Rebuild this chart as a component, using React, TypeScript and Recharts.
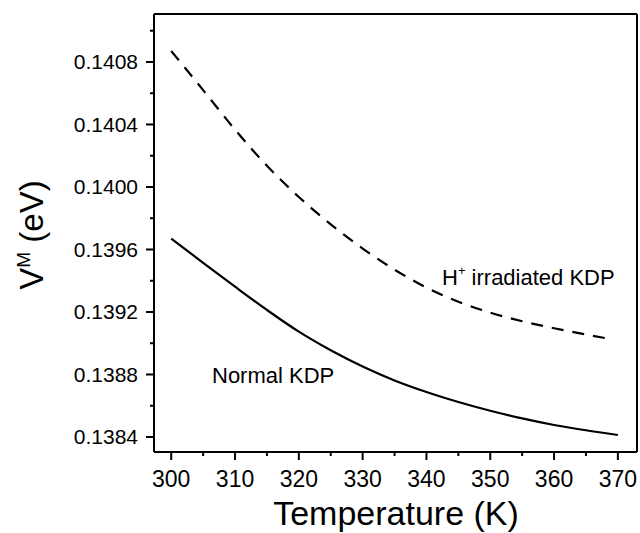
import { LineChart, Line, XAxis, YAxis, ReferenceLine } from "recharts";

// temperature (K)
const normalT = [300, 305, 310, 315, 320, 325, 330, 335, 340, 345, 350, 355, 360, 365, 370];
const normalV = [0.13967, 0.139515, 0.139362, 0.139213, 0.139074, 0.138955, 0.138851, 0.138762, 0.138688, 0.138624, 0.138568, 0.138519, 0.138477, 0.138443, 0.138413];

const irradT = [300, 305, 310, 315, 320, 325, 330, 335, 340, 345, 350, 355, 360, 365, 369];
const irradV = [0.14087, 0.14062, 0.140367, 0.140136, 0.139936, 0.139761, 0.139606, 0.139471, 0.139356, 0.139266, 0.139196, 0.139141, 0.139096, 0.139056, 0.139026];

const xTicks = [300, 305, 310, 315, 320, 325, 330, 335, 340, 345, 350, 355, 360, 365, 370];
const yTicks = [0.1384, 0.1386, 0.1388, 0.139, 0.1392, 0.1394, 0.1396, 0.1398, 0.14, 0.1402, 0.1404, 0.1406, 0.1408, 0.141];

const xDomain = [297.3, 373];
const yDomain = [0.138304, 0.141107];

const normalData = normalT.map((t, i) => ({ t, v: normalV[i] }));
const irradData = irradT.map((t, i) => ({ t, v: irradV[i] }));

const FONT = "'Liberation Sans', Arial, Helvetica, sans-serif";

const XTick = (props: any) => {
  const { x, y, payload } = props;
  const major = payload.value % 10 === 0;
  return (
    <g>
      <line x1={x} x2={x} y1={y} y2={y + (major ? 8 : 4)} stroke="#000" strokeWidth={2} />
      {major && (
        <text x={x} y={y + 35} textAnchor="middle" fontSize={23} fill="#000" fontFamily={FONT}>
          {payload.value}
        </text>
      )}
    </g>
  );
};

const YTick = (props: any) => {
  const { x, y, payload } = props;
  const major = Math.round(payload.value * 10000) % 4 === 0;
  return (
    <g>
      <line x1={x - (major ? 8 : 4)} x2={x} y1={y} y2={y} stroke="#000" strokeWidth={2} />
      {major && (
        <text x={x - 16} y={y + 7.5} textAnchor="end" fontSize={21} fill="#000" fontFamily={FONT}>
          {payload.value.toFixed(4)}
        </text>
      )}
    </g>
  );
};

export default function App() {
  return (
    <div style={{ position: "absolute", left: 0, top: 0, background: "#fff", fontFamily: FONT }}>
      <LineChart width={640} height={533} margin={{ top: 14, right: 3, bottom: 0, left: 0 }}>
        <XAxis
          dataKey="t"
          type="number"
          domain={xDomain}
          ticks={xTicks}
          allowDataOverflow
          height={81}
          tickSize={0}
          tickMargin={0}
          tickLine={false}
          tick={<XTick />}
          axisLine={{ stroke: "#000", strokeWidth: 2 }}
          interval={0}
        />
        <YAxis
          type="number"
          domain={yDomain}
          ticks={yTicks}
          allowDataOverflow
          width={154}
          tickSize={0}
          tickMargin={0}
          tickLine={false}
          tick={<YTick />}
          axisLine={{ stroke: "#000", strokeWidth: 2 }}
          interval={0}
        />
        {/* frame: top and right edges */}
        <ReferenceLine y={yDomain[1]} stroke="#000" strokeWidth={2} ifOverflow="visible" />
        <ReferenceLine x={xDomain[1]} stroke="#000" strokeWidth={2} ifOverflow="visible" />
        <Line
          data={irradData}
          dataKey="v"
          type="monotone"
          stroke="#000"
          strokeWidth={2.2}
          strokeDasharray="12 9"
          dot={false}
          isAnimationActive={false}
        />
        <Line
          data={normalData}
          dataKey="v"
          type="monotone"
          stroke="#000"
          strokeWidth={2.2}
          dot={false}
          isAnimationActive={false}
        />
        <text x={212} y={383} fontSize={22} fill="#000" fontFamily={FONT}>
          Normal KDP
        </text>
        <text x={442} y={285} fontSize={22} fill="#000" fontFamily={FONT}>
          H
          <tspan fontSize={13} dy={-10}>+</tspan>
          <tspan dy={10}> irradiated KDP</tspan>
        </text>
        <text x={396} y={525} textAnchor="middle" fontSize={34} fill="#000" fontFamily={FONT}>
          Temperature (K)
        </text>
        <text transform="translate(43, 235) rotate(-90)" textAnchor="middle" fontSize={33} fill="#000" fontFamily={FONT}>
          V
          <tspan fontSize={19} dy={-13}>M</tspan>
          <tspan dy={13}> (eV)</tspan>
        </text>
      </LineChart>
    </div>
  );
}
